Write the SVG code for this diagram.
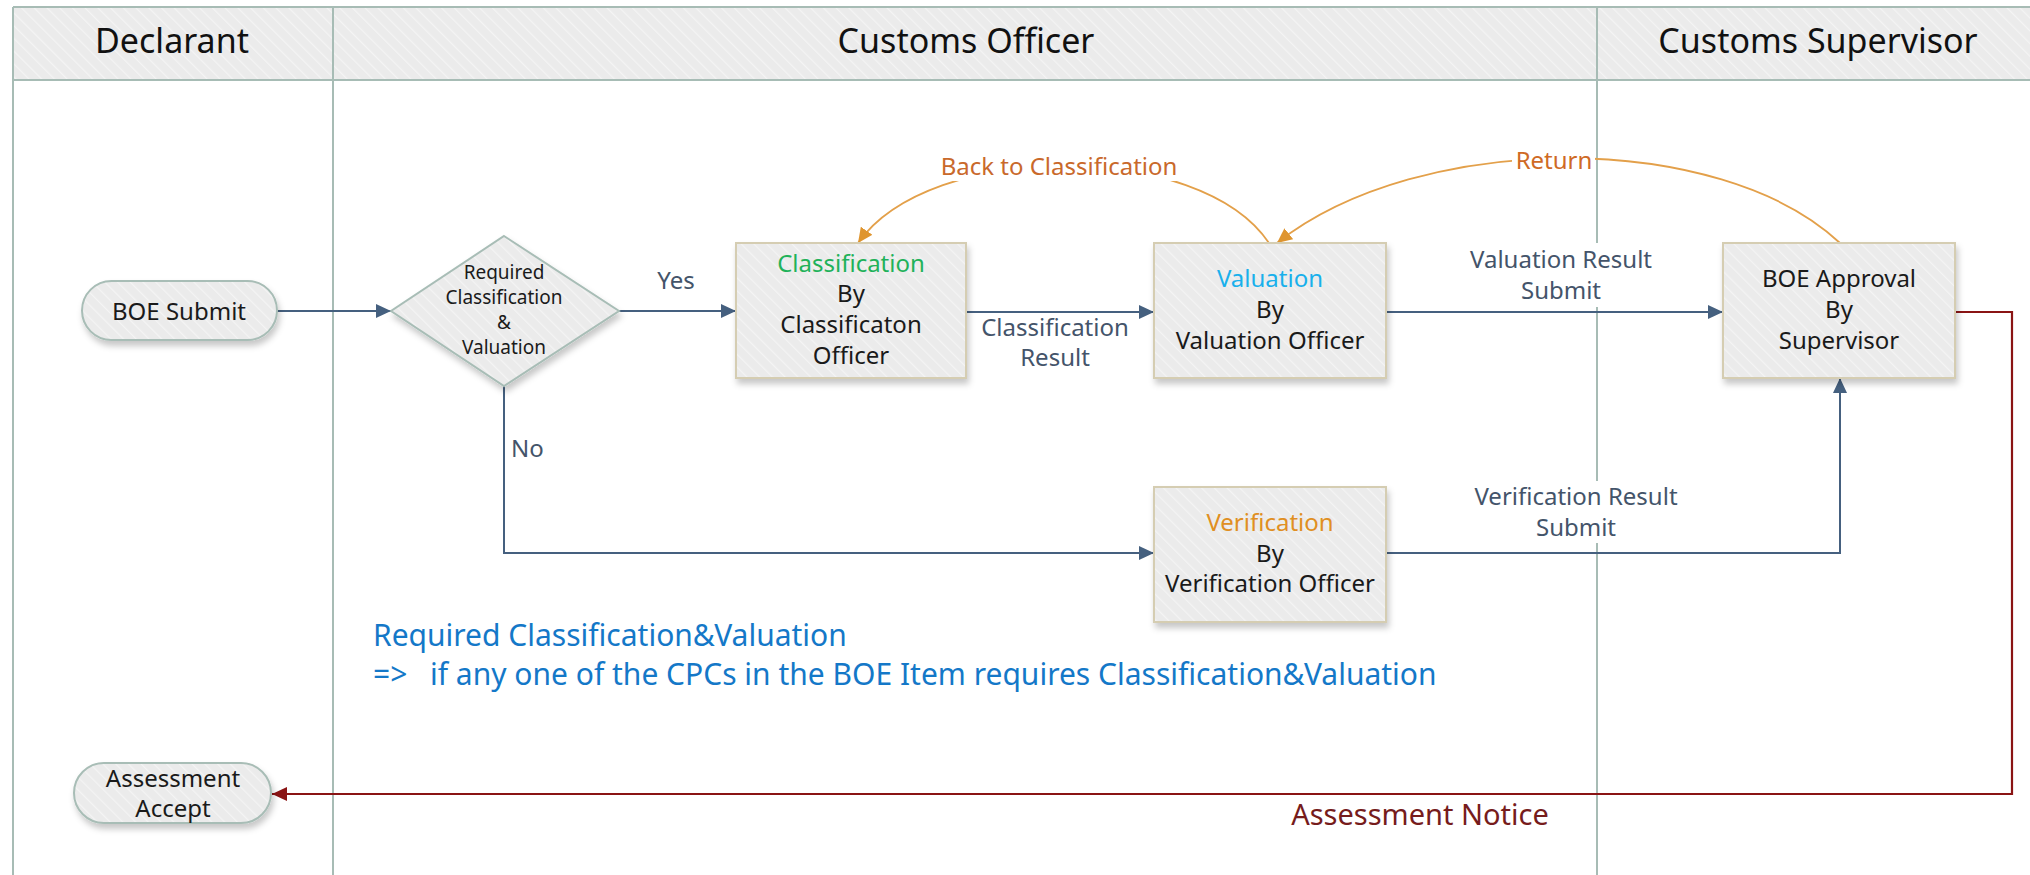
<svg xmlns="http://www.w3.org/2000/svg" width="2030" height="875" viewBox="0 0 2030 875">
<defs>
<pattern id="hatch" width="9" height="9" patternUnits="userSpaceOnUse" patternTransform="rotate(-45)">
<rect width="9" height="9" fill="#ebebeb"/>
<line x1="0" y1="0" x2="0" y2="9" stroke="#f4f4f4" stroke-width="2.5"/>
</pattern>
<filter id="shadow" x="-10%" y="-10%" width="130%" height="140%">
<feDropShadow dx="2" dy="5" stdDeviation="3" flood-color="#000" flood-opacity="0.22"/>
</filter>
<marker id="arrB" markerUnits="userSpaceOnUse" markerWidth="16" markerHeight="14" refX="15" refY="7" orient="auto">
<path d="M0,0 L15,7 L0,14 z" fill="#45607f"/>
</marker>
<marker id="arrO" markerUnits="userSpaceOnUse" markerWidth="16" markerHeight="14" refX="15" refY="7" orient="auto">
<path d="M0,0 L15,7 L0,14 z" fill="#df952f"/>
</marker>
<marker id="arrR" markerUnits="userSpaceOnUse" markerWidth="16" markerHeight="14" refX="15" refY="7" orient="auto">
<path d="M0,0 L15,7 L0,14 z" fill="#8a1414"/>
</marker>
</defs>
<style>
text{font-family:"Noto Sans","Open Sans","Liberation Sans",sans-serif;}
.hdr{font-size:34px;fill:#111;text-anchor:middle;}
.node{fill:url(#hatch);stroke:#d5cdb2;stroke-width:2;filter:url(#shadow);}
.term{fill:url(#hatch);stroke:#a8bdb6;stroke-width:2;filter:url(#shadow);}
.t{font-size:24px;fill:#1a1a1a;text-anchor:middle;}
.ts{font-size:19px;fill:#1a1a1a;text-anchor:middle;}
.lbl{font-size:24px;fill:#44546a;text-anchor:middle;}
.flow{fill:none;stroke:#45607f;stroke-width:2;marker-end:url(#arrB);}
.curve{fill:none;stroke:#e3a04a;stroke-width:1.8;marker-end:url(#arrO);}
.lane{stroke:#a7bcb5;stroke-width:2;fill:none;}
.note{font-size:30px;fill:#1478c8;}
</style>
<rect x="0" y="0" width="2030" height="875" fill="#fff"/>
<g id="lanes">
<rect x="13" y="7" width="2040" height="73" fill="url(#hatch)"/>
<line class="lane" x1="13" y1="7" x2="2030" y2="7"/>
<line class="lane" x1="13" y1="80" x2="2030" y2="80"/>
<line class="lane" x1="13" y1="7" x2="13" y2="875"/>
<line class="lane" x1="333" y1="7" x2="333" y2="875"/>
<line class="lane" x1="1597" y1="7" x2="1597" y2="875"/>
<text class="hdr" x="172" y="53">Declarant</text>
<text class="hdr" x="966" y="53">Customs Officer</text>
<text class="hdr" x="1818" y="53">Customs Supervisor</text>
</g>
<g id="connectors">
<path class="flow" d="M277,311 H391"/>
<path class="flow" d="M619,311 H736"/>
<path class="flow" d="M966,312 H1154"/>
<path class="flow" d="M1386,312 H1723"/>
<path class="flow" d="M504,386 V553 H1154"/>
<path class="flow" d="M1386,553 H1840 V378"/>
<path d="M1955,312 H2012 V794 H272" fill="none" stroke="#8a1414" stroke-width="2.2" marker-end="url(#arrR)"/>
<path class="curve" d="M1269,243 C1200,140 930,140 858,243"/>
<path class="curve" d="M1840,243 C1720,130 1420,130 1277,243"/>
<rect x="938" y="148" width="244" height="33" fill="#fff"/>
<rect x="1512" y="145" width="83" height="31" fill="#fff"/>
<rect x="1462" y="243" width="196" height="64" fill="#fff"/>
<rect x="1470" y="481" width="212" height="62" fill="#fff"/>
<text class="lbl" x="676" y="289">Yes</text>
<text class="lbl" x="511" y="457" style="text-anchor:start">No</text>
<text class="lbl" x="1055" y="336">Classification</text>
<text class="lbl" x="1055" y="366">Result</text>
<text class="lbl" x="1561" y="268">Valuation Result</text>
<text class="lbl" x="1561" y="299">Submit</text>
<text class="lbl" x="1576" y="505">Verification Result</text>
<text class="lbl" x="1576" y="536">Submit</text>
<text class="lbl" x="1059" y="175" style="fill:#c9692b">Back to Classification</text>
<text class="lbl" x="1554" y="169" style="fill:#cf6a25">Return</text>
<text x="1420" y="825" style="font-size:29px;fill:#761c1c;text-anchor:middle">Assessment Notice</text>
</g>
<g id="boe-submit">
<rect class="term" x="82" y="281" width="195" height="59" rx="29.5"/>
<text class="t" x="179" y="320">BOE Submit</text>
</g>
<g id="decision">
<path class="term" d="M504,236 L619,311 L504,386 L391,311 z"/>
<text class="ts" x="504" y="279">Required</text>
<text class="ts" x="504" y="304">Classification</text>
<text class="ts" x="504" y="329">&amp;</text>
<text class="ts" x="504" y="354">Valuation</text>
</g>
<g id="classification">
<rect class="node" x="736" y="243" width="230" height="135"/>
<text class="t" x="851" y="272" style="fill:#1fb25a">Classification</text>
<text class="t" x="851" y="302">By</text>
<text class="t" x="851" y="333">Classificaton</text>
<text class="t" x="851" y="364">Officer</text>
</g>
<g id="valuation">
<rect class="node" x="1154" y="243" width="232" height="135"/>
<text class="t" x="1270" y="287" style="fill:#19b0ec">Valuation</text>
<text class="t" x="1270" y="318">By</text>
<text class="t" x="1270" y="349">Valuation Officer</text>
</g>
<g id="verification">
<rect class="node" x="1154" y="487" width="232" height="135"/>
<text class="t" x="1270" y="531" style="fill:#e08f22">Verification</text>
<text class="t" x="1270" y="562">By</text>
<text class="t" x="1270" y="592">Verification Officer</text>
</g>
<g id="boe-approval">
<rect class="node" x="1723" y="243" width="232" height="135"/>
<text class="t" x="1839" y="287">BOE Approval</text>
<text class="t" x="1839" y="318">By</text>
<text class="t" x="1839" y="349">Supervisor</text>
</g>
<g id="assessment-accept">
<rect class="term" x="74" y="763" width="197" height="60" rx="30"/>
<text class="t" x="173" y="787">Assessment</text>
<text class="t" x="173" y="817">Accept</text>
</g>
<g id="note">
<text class="note" x="373" y="646">Required Classification&amp;Valuation</text>
<text class="note" y="685"><tspan x="373">=&gt;</tspan><tspan x="430">if any one of the CPCs in the BOE Item requires Classification&amp;Valuation</tspan></text>
</g>
</svg>
